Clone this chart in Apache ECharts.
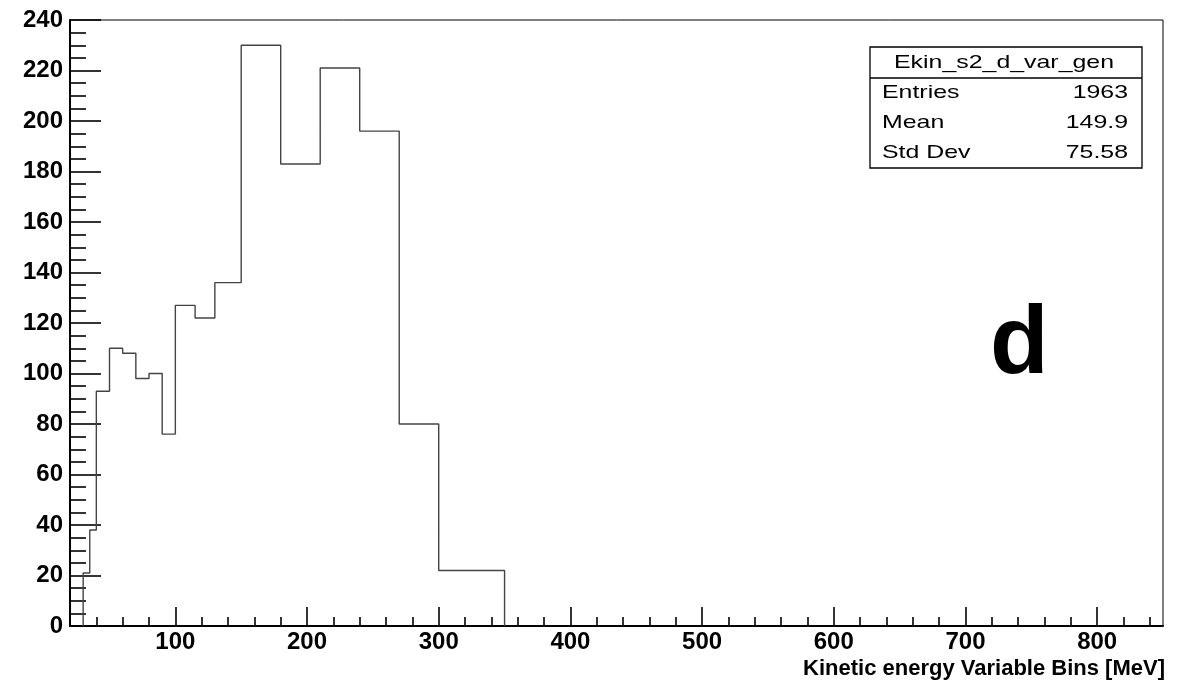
<!DOCTYPE html>
<html>
<head>
<meta charset="utf-8">
<script src="https://cdn.jsdelivr.net/npm/echarts@6/dist/echarts.min.js"></script>
<style>
html,body{margin:0;padding:0;background:#fff;}
#c{width:1189px;height:689px;}
</style>
</head>
<body>
<div id="c"></div>
<script>
// Bin low edges (last value = upper edge of last bin), MeV
var binEdges = [30, 35, 40, 50, 60, 70, 80, 90, 100, 115, 130, 150, 180, 210, 240, 270, 300, 350];
// Bin contents (one per bin)
var binCounts = [21, 38, 93, 110, 108, 98, 100, 76, 127, 122, 136, 230, 183, 221, 196, 80, 22];
var xMajorTicks = [100, 200, 300, 400, 500, 600, 700, 800];
var xMinorTicks = [40, 60, 80, 120, 140, 160, 180, 220, 240, 260, 280, 320, 340, 360, 380, 420, 440, 460, 480, 520, 540, 560, 580, 620, 640, 660, 680, 720, 740, 760, 780, 820, 840];
var statsTitle = 'Ekin_s2_d_var_gen';
var statsNames = ['Entries', 'Mean', 'Std Dev'];
var statsValues = ['1963', '149.9', '75.58'];
var xTitle = 'Kinetic energy Variable Bins [MeV]';
var panelLabel = 'd';

var stepData = [[binEdges[0], 0]];
for (var i = 0; i < binCounts.length; i++) stepData.push([binEdges[i], binCounts[i]]);
stepData.push([binEdges[binEdges.length - 1], 0]);

var FONT = '"Liberation Sans", Arial, Helvetica, sans-serif';
var TICKFONT = FONT;
var chart = echarts.init(document.getElementById('c'), null, {renderer: 'canvas'});

var gL = 70, gT = 20, gR = 1163, gB = 626;
var bx = 870, by = 47, bw = 272, bh = 121;
var statFont = '19px ' + FONT;
var SX = 1.31;
var graphics = [
  {type: 'rect', shape: {x: bx, y: by, width: bw, height: bh}, style: {fill: '#fff', stroke: '#000', lineWidth: 1.3}, z: 100},
  {type: 'line', shape: {x1: bx, y1: 78, x2: bx + bw, y2: 78}, style: {stroke: '#000', lineWidth: 1.3}, z: 101},
  {type: 'text', x: 1004, y: 63, scaleX: SX, style: {text: statsTitle, font: statFont, fill: '#000', textAlign: 'center', textVerticalAlign: 'middle'}, z: 101},
  {type: 'text', x: 990, y: 347, style: {text: panelLabel, font: 'bold 96px ' + FONT, fill: '#000', textAlign: 'left', textVerticalAlign: 'middle'}, z: 101},
  {type: 'text', x: 1165, y: 669, style: {text: xTitle, font: 'bold 22px ' + FONT, fill: '#000', textAlign: 'right', textVerticalAlign: 'middle'}, z: 101}
];
var rowY = [93, 123, 153];
for (var r = 0; r < statsNames.length; r++) {
  graphics.push({type: 'text', x: 882, y: rowY[r], scaleX: SX, style: {text: statsNames[r], font: statFont, fill: '#000', textAlign: 'left', textVerticalAlign: 'middle'}, z: 101});
  graphics.push({type: 'text', x: 1128, y: rowY[r], scaleX: SX, style: {text: statsValues[r], font: statFont, fill: '#000', textAlign: 'right', textVerticalAlign: 'middle'}, z: 101});
}

var option = {
  animation: false,
  backgroundColor: '#fff',
  grid: {left: gL, top: gT, right: 1189 - gR, bottom: 689 - gB, show: true, borderColor: '#000', borderWidth: 1, backgroundColor: 'transparent'},
  xAxis: [
    {
      type: 'value', min: 20, max: 850, position: 'bottom',
      axisLine: {show: true, onZero: false, lineStyle: {color: '#000', width: 2}},
      axisTick: {show: true, inside: true, length: 19, customValues: xMajorTicks, lineStyle: {color: '#000', width: 1.6}},
      axisLabel: {show: true, customValues: xMajorTicks, margin: 4, color: '#000', fontFamily: TICKFONT, fontWeight: 'bold', fontSize: 24},
      splitLine: {show: false}
    },
    {
      type: 'value', min: 20, max: 850, position: 'bottom',
      axisLine: {show: false, onZero: false},
      axisTick: {show: true, inside: true, length: 9, customValues: xMinorTicks, lineStyle: {color: '#000', width: 1.6}},
      axisLabel: {show: false},
      splitLine: {show: false}
    }
  ],
  yAxis: {
    type: 'value', min: 0, max: 240, interval: 20,
    axisLine: {show: true, onZero: false, lineStyle: {color: '#000', width: 2}},
    axisTick: {show: true, inside: true, length: 31, lineStyle: {color: '#000', width: 1.6}},
    minorTick: {show: true, splitNumber: 4, length: 16, lineStyle: {color: '#000', width: 1.6}},
    axisLabel: {show: true, margin: 7, color: '#000', fontFamily: TICKFONT, fontWeight: 'bold', fontSize: 24},
    splitLine: {show: false}, minorSplitLine: {show: false}
  },
  series: [{
    type: 'line', xAxisIndex: 0, step: 'end', data: stepData,
    symbol: 'none', lineStyle: {color: '#444', width: 1.4}, silent: true, z: 3
  }],
  graphic: graphics
};
chart.setOption(option);
</script>
</body>
</html>
